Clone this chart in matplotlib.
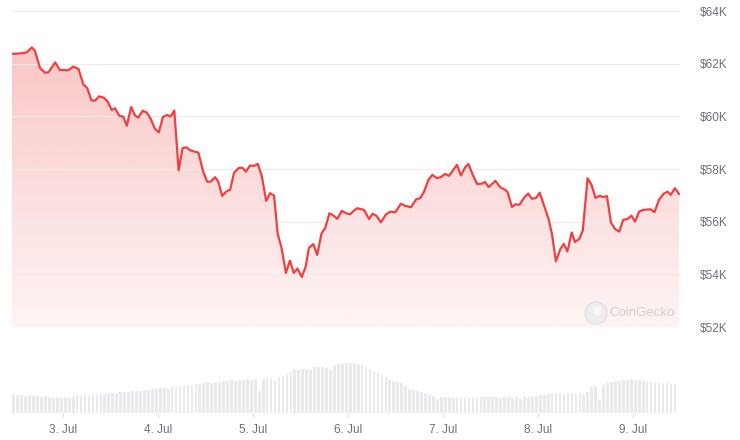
import datetime as dt
import numpy as np
import matplotlib
matplotlib.use("Agg")
import matplotlib.pyplot as plt
import matplotlib.dates as mdates
from matplotlib.ticker import FuncFormatter
from matplotlib.patches import Ellipse

# ---------------- data ----------------
start_time = dt.datetime(2024, 7, 2, 11, 0)

price_hours = [
    0.0, 2.9, 3.8, 5.0, 5.8, 7.1, 8.3, 9.2, 10.9, 12.1, 14.2, 15.5, 16.8, 18.0, 19.0, 20.1,
    21.0, 22.0, 23.1, 24.1, 25.2, 26.0, 27.1, 28.1, 29.0, 30.1, 31.1, 31.9, 33.0, 34.0, 35.0,
    36.1, 37.1, 38.1, 39.1, 40.1, 41.0, 42.1, 43.1, 44.1, 45.0, 46.2, 47.1, 48.3, 49.3, 50.2,
    51.3, 52.1, 53.1, 54.1, 55.1, 56.1, 57.2, 58.2, 59.1, 60.1, 61.1, 62.1, 63.1, 64.2, 65.2,
    66.2, 67.1, 68.1, 69.2, 70.2, 71.2, 72.1, 73.2, 74.2, 75.0, 76.1, 77.1, 78.2, 79.1, 80.2,
    81.2, 82.2, 83.3, 84.4, 85.4, 86.3, 87.2, 88.9, 90.2, 91.1, 92.1, 93.2, 94.4, 95.5, 96.9,
    98.2, 99.3, 100.8, 102.1, 103.1, 104.1, 105.2, 106.2, 107.3, 108.3, 109.4, 110.4, 111.5,
    112.4, 113.4, 114.5, 115.3, 116.4, 117.5, 118.9, 119.5, 120.4, 122.1, 123.3, 124.6, 125.2,
    126.3, 127.2, 128.2, 129.4, 130.4, 131.3, 132.4, 133.3, 134.4, 135.5, 136.4, 137.4, 138.5,
    139.4, 140.3, 141.4, 142.2, 143.3, 144.2, 145.4, 146.4, 147.4, 148.4, 149.3, 150.3, 151.3,
    152.3, 153.4, 154.4, 155.5, 156.5, 157.4, 158.4, 159.5, 161.3, 162.3, 163.5, 164.7, 165.6,
    166.4, 167.5, 168.5,
]

price_usd = [
    62370, 62400, 62440, 62620, 62490, 61830, 61660, 61670, 62050, 61760, 61750, 61890, 61800,
    61220, 61070, 60600, 60600, 60760, 60710, 60580, 60240, 60310, 60020, 59990, 59640, 60350,
    60030, 59950, 60210, 60150, 59920, 59530, 59390, 59970, 60050, 60000, 60220, 57950, 58800,
    58820, 58710, 58660, 58620, 57900, 57520, 57520, 57690, 57520, 56980, 57140, 57210, 57860,
    58030, 58050, 57900, 58130, 58120, 58190, 57740, 56790, 57080, 56990, 55560, 55000, 54050,
    54520, 54050, 54220, 53900, 54300, 55000, 55150, 54740, 55560, 55750, 56320, 56230, 56110,
    56410, 56320, 56280, 56410, 56510, 56450, 56100, 56300, 56220, 55970, 56260, 56380, 56360,
    56680, 56600, 56550, 56850, 56890, 57140, 57590, 57780, 57650, 57690, 57810, 57740, 57970,
    58160, 57760, 58070, 58190, 57780, 57430, 57450, 57510, 57310, 57550, 57310, 57210, 57120,
    56560, 56660, 56640, 56920, 57070, 56870, 56900, 57100, 56610, 56130, 55540, 54500, 54950,
    55160, 54870, 55590, 55230, 55340, 55670, 57650, 57400, 56900, 56980, 56940, 56970, 55970,
    55730, 55620, 56070, 56100, 56230, 56000, 56380, 56450, 56470, 56360, 56850, 57070, 57140,
    57020, 57270, 57050,
]

# hourly traded volume (relative units), one bar per hour
volume = [
    18, 18, 18, 17, 18, 17, 17, 16, 17, 16, 15,
    16, 15, 16, 15, 16, 17, 17, 18, 17, 18,
    19, 19, 19, 20, 20, 20, 21, 21, 21, 22,
    22, 22, 23, 23, 24, 24, 25, 25, 24, 26,
    26, 27, 27, 28, 28, 29, 29, 30, 31, 30,
    31, 31, 32, 32, 33, 32, 33, 33, 34, 33,
    34, 22, 34, 35, 35, 33, 36, 37, 38, 42,
    44, 43, 44, 44, 43, 46, 46, 46, 45, 43,
    48, 49, 49, 50, 50, 50, 49, 48, 46, 44,
    42, 40, 38, 36, 33, 32, 31, 30, 27, 24,
    23, 22, 21, 20, 18, 17, 14, 16, 16, 16,
    15, 16, 16, 16, 15, 16, 16, 16, 16, 16,
    16, 16, 15, 16, 16, 15, 16, 14, 16, 16,
    17, 17, 18, 18, 19, 20, 20, 20, 19, 20,
    20, 19, 20, 19, 21, 26, 27, 13, 28, 30,
    31, 32, 32, 33, 33, 34, 33, 33, 32, 31,
    31, 30, 30, 30, 30, 29, 29,
]

y_ticks = [52000, 54000, 56000, 58000, 60000, 62000, 64000]

# ---------------- styling ----------------
LINE = "#f03f3f"
GRID = "#ececec"
TEXT = "#6b6f76"
VOL = "#e8eaee"
FONT = ["Liberation Sans", "DejaVu Sans"]
plt.rcParams["font.family"] = FONT

W, H = 740, 440
fig = plt.figure(figsize=(W / 100, H / 100), dpi=100)
fig.patch.set_facecolor("white")

def px_rect(x0, y0, x1, y1):
    return [x0 / W, 1 - y1 / H, (x1 - x0) / W, (y1 - y0) / H]

ax = fig.add_axes(px_rect(12, 11, 680, 327))
axv = fig.add_axes(px_rect(12, 352.7, 680, 412.7))

times = [start_time + dt.timedelta(hours=h) for h in price_hours]
x_num = mdates.date2num(times)
p = np.array(price_usd, dtype=float)

x_lo = mdates.date2num(start_time)
x_hi = mdates.date2num(start_time + dt.timedelta(hours=168.75))
y_lo, y_hi = 52000, 64000

# gradient fill under line
poly = ax.fill_between(x_num, p, y_lo, facecolor="none", edgecolor="none")
grad = np.zeros((256, 1, 4))
rgb = matplotlib.colors.to_rgb(LINE)
grad[:, 0, 0:3] = rgb
grad[:, 0, 3] = np.linspace(0.06, 0.30, 256)
img = ax.imshow(grad, aspect="auto", origin="lower",
                extent=[x_lo, x_hi, y_lo, 62800], zorder=1)
path = poly.get_paths()[0]
img.set_clip_path(path, transform=ax.transData)

ax.plot(x_num, p, color=LINE, lw=1.6, zorder=3, solid_joinstyle="round")

ax.set_xlim(x_lo, x_hi)
ax.set_ylim(y_lo, y_hi)
ax.set_yticks(y_ticks)
ax.yaxis.tick_right()
ax.yaxis.set_major_formatter(FuncFormatter(lambda v, _: f"${int(v/1000)}K"))
ax.tick_params(axis="y", length=0, pad=14, labelsize=8.5, labelcolor=TEXT)
ax.tick_params(axis="x", bottom=False, labelbottom=False)
ax.grid(axis="y", color=GRID, lw=0.8, zorder=0)
for s in ax.spines.values():
    s.set_visible(False)
ax.set_facecolor("none")

# watermark
fig.add_artist(Ellipse((596 / W, 1 - 313 / H), 22 / W, 22 / H, transform=fig.transFigure,
                       facecolor="#ededed", edgecolor="#e2e2e2", lw=1, zorder=4))
fig.add_artist(Ellipse((598 / W, 1 - 311 / H), 9 / W, 9 / H, transform=fig.transFigure,
                       facecolor="#f7f7f7", edgecolor="none", zorder=5))
fig.text(609 / W, 1 - 313 / H, "CoinGecko", fontsize=9.5, color="#cfcfcf",
         va="center", ha="left", zorder=5)

# volume bars
vol_times = [start_time + dt.timedelta(hours=h + 0.45) for h in range(len(volume))]
axv.bar(mdates.date2num(vol_times), volume, width=0.68 / 24, color=VOL, zorder=2)
axv.set_xlim(x_lo, x_hi)
axv.set_ylim(0, 60)
axv.set_yticks([])
for s in axv.spines.values():
    s.set_visible(False)
axv.xaxis.set_major_locator(mdates.DayLocator())
axv.xaxis.set_major_formatter(FuncFormatter(
    lambda v, _: f"{mdates.num2date(v).day}. {mdates.num2date(v):%b}"))
axv.tick_params(axis="x", length=3, color="#dcdcdc", pad=5, labelsize=8.5, labelcolor=TEXT)

fig.savefig("out.png", dpi=100, facecolor="white")
